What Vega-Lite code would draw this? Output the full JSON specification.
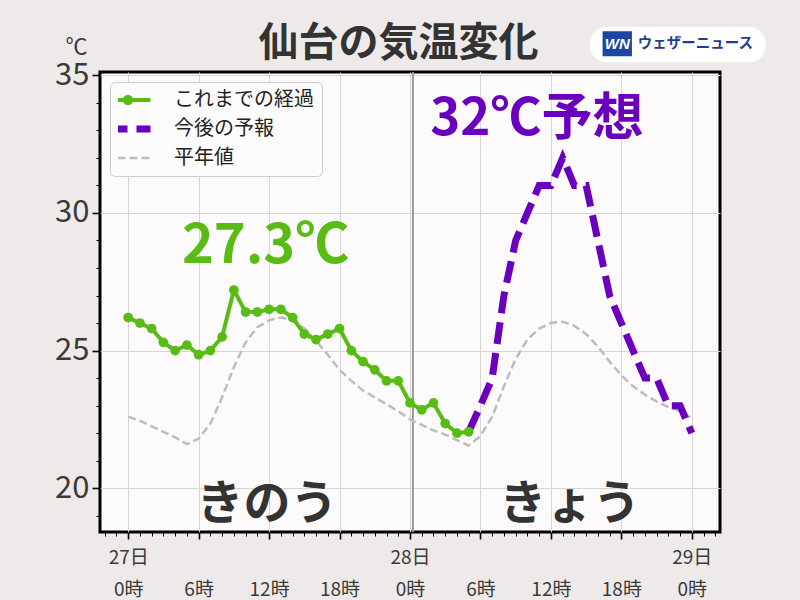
{
  "$schema": "https://vega.github.io/schema/vega-lite/v6.json",
  "width": 620,
  "height": 460,
  "autosize": {"type": "none"},
  "padding": {"left": 100, "top": 72, "right": 80, "bottom": 68},
  "background": "#EDEAE9",
  "config": {
    "view": {"fill": "#FCFAFA", "stroke": "#000000", "strokeWidth": 3},
    "font": "Noto Sans CJK JP",
    "axis": {"labelOverlap": false, "labelFlush": false}
  },
  "datasets": {
    "temps": [
      {"series": "これまでの経過", "hour": 0, "temp": 26.2},
      {"series": "これまでの経過", "hour": 1, "temp": 26.0},
      {"series": "これまでの経過", "hour": 2, "temp": 25.8},
      {"series": "これまでの経過", "hour": 3, "temp": 25.3},
      {"series": "これまでの経過", "hour": 4, "temp": 25.0},
      {"series": "これまでの経過", "hour": 5, "temp": 25.2},
      {"series": "これまでの経過", "hour": 6, "temp": 24.85},
      {"series": "これまでの経過", "hour": 7, "temp": 25.0},
      {"series": "これまでの経過", "hour": 8, "temp": 25.5},
      {"series": "これまでの経過", "hour": 9, "temp": 27.2},
      {"series": "これまでの経過", "hour": 10, "temp": 26.4},
      {"series": "これまでの経過", "hour": 11, "temp": 26.4},
      {"series": "これまでの経過", "hour": 12, "temp": 26.5},
      {"series": "これまでの経過", "hour": 13, "temp": 26.5},
      {"series": "これまでの経過", "hour": 14, "temp": 26.2},
      {"series": "これまでの経過", "hour": 15, "temp": 25.6},
      {"series": "これまでの経過", "hour": 16, "temp": 25.4},
      {"series": "これまでの経過", "hour": 17, "temp": 25.6},
      {"series": "これまでの経過", "hour": 18, "temp": 25.8},
      {"series": "これまでの経過", "hour": 19, "temp": 25.0},
      {"series": "これまでの経過", "hour": 20, "temp": 24.6},
      {"series": "これまでの経過", "hour": 21, "temp": 24.3},
      {"series": "これまでの経過", "hour": 22, "temp": 23.9},
      {"series": "これまでの経過", "hour": 23, "temp": 23.9},
      {"series": "これまでの経過", "hour": 24, "temp": 23.1},
      {"series": "これまでの経過", "hour": 25, "temp": 22.85},
      {"series": "これまでの経過", "hour": 26, "temp": 23.1},
      {"series": "これまでの経過", "hour": 27, "temp": 22.35},
      {"series": "これまでの経過", "hour": 28, "temp": 22.0},
      {"series": "これまでの経過", "hour": 29, "temp": 22.05},
      {"series": "今後の予報", "hour": 29, "temp": 22.05},
      {"series": "今後の予報", "hour": 30, "temp": 23},
      {"series": "今後の予報", "hour": 31, "temp": 24},
      {"series": "今後の予報", "hour": 32, "temp": 27},
      {"series": "今後の予報", "hour": 33, "temp": 29},
      {"series": "今後の予報", "hour": 34, "temp": 30},
      {"series": "今後の予報", "hour": 35, "temp": 31},
      {"series": "今後の予報", "hour": 36, "temp": 31},
      {"series": "今後の予報", "hour": 37, "temp": 32},
      {"series": "今後の予報", "hour": 38, "temp": 31},
      {"series": "今後の予報", "hour": 39, "temp": 31},
      {"series": "今後の予報", "hour": 40, "temp": 29},
      {"series": "今後の予報", "hour": 41, "temp": 27},
      {"series": "今後の予報", "hour": 42, "temp": 26},
      {"series": "今後の予報", "hour": 43, "temp": 25},
      {"series": "今後の予報", "hour": 44, "temp": 24},
      {"series": "今後の予報", "hour": 45, "temp": 24},
      {"series": "今後の予報", "hour": 46, "temp": 23},
      {"series": "今後の予報", "hour": 47, "temp": 23},
      {"series": "今後の予報", "hour": 48, "temp": 22},
      {"series": "平年値", "hour": 0, "temp": 22.6},
      {"series": "平年値", "hour": 1, "temp": 22.45},
      {"series": "平年値", "hour": 2, "temp": 22.25},
      {"series": "平年値", "hour": 3, "temp": 22.05},
      {"series": "平年値", "hour": 4, "temp": 21.85},
      {"series": "平年値", "hour": 5, "temp": 21.6},
      {"series": "平年値", "hour": 6, "temp": 21.8},
      {"series": "平年値", "hour": 7, "temp": 22.35},
      {"series": "平年値", "hour": 8, "temp": 23.3},
      {"series": "平年値", "hour": 9, "temp": 24.4},
      {"series": "平年値", "hour": 10, "temp": 25.3},
      {"series": "平年値", "hour": 11, "temp": 25.85},
      {"series": "平年値", "hour": 12, "temp": 26.1},
      {"series": "平年値", "hour": 13, "temp": 26.2},
      {"series": "平年値", "hour": 14, "temp": 26.1},
      {"series": "平年値", "hour": 15, "temp": 25.8},
      {"series": "平年値", "hour": 16, "temp": 25.35},
      {"series": "平年値", "hour": 17, "temp": 24.85},
      {"series": "平年値", "hour": 18, "temp": 24.3},
      {"series": "平年値", "hour": 19, "temp": 23.9},
      {"series": "平年値", "hour": 20, "temp": 23.55},
      {"series": "平年値", "hour": 21, "temp": 23.3},
      {"series": "平年値", "hour": 22, "temp": 23.05},
      {"series": "平年値", "hour": 23, "temp": 22.8},
      {"series": "平年値", "hour": 24, "temp": 22.5},
      {"series": "平年値", "hour": 25, "temp": 22.3},
      {"series": "平年値", "hour": 26, "temp": 22.1},
      {"series": "平年値", "hour": 27, "temp": 21.95},
      {"series": "平年値", "hour": 28, "temp": 21.75},
      {"series": "平年値", "hour": 29, "temp": 21.55},
      {"series": "平年値", "hour": 30, "temp": 21.9},
      {"series": "平年値", "hour": 31, "temp": 22.6},
      {"series": "平年値", "hour": 32, "temp": 23.7},
      {"series": "平年値", "hour": 33, "temp": 24.7},
      {"series": "平年値", "hour": 34, "temp": 25.4},
      {"series": "平年値", "hour": 35, "temp": 25.8},
      {"series": "平年値", "hour": 36, "temp": 26.0},
      {"series": "平年値", "hour": 37, "temp": 26.05},
      {"series": "平年値", "hour": 38, "temp": 25.9},
      {"series": "平年値", "hour": 39, "temp": 25.6},
      {"series": "平年値", "hour": 40, "temp": 25.15},
      {"series": "平年値", "hour": 41, "temp": 24.6},
      {"series": "平年値", "hour": 42, "temp": 24.1},
      {"series": "平年値", "hour": 43, "temp": 23.7},
      {"series": "平年値", "hour": 44, "temp": 23.4},
      {"series": "平年値", "hour": 45, "temp": 23.15},
      {"series": "平年値", "hour": 46, "temp": 22.95},
      {"series": "平年値", "hour": 47, "temp": 22.8},
      {"series": "平年値", "hour": 48, "temp": 22.55}
    ]
  },
  "layer": [
    {
      "data": {"values": [{"hour": 24.25}]},
      "mark": {"type": "rule", "color": "#9a9a9a", "strokeWidth": 2},
      "encoding": {
        "x": {
          "field": "hour",
          "type": "quantitative",
          "scale": {"domain": [-2.4, 50.4], "nice": false, "zero": false},
          "axis": {
            "title": null,
            "values": [-2,-1,0,1,2,3,4,5,6,7,8,9,10,11,12,13,14,15,16,17,18,19,20,21,22,23,24,25,26,27,28,29,30,31,32,33,34,35,36,37,38,39,40,41,42,43,44,45,46,47,48,49,50],
            "tickCount": 200,
            "labelExpr": "datum.value % 6 !== 0 ? '' : (datum.value === 0 ? ['27日', '0時'] : datum.value === 24 ? ['28日', '0時'] : datum.value === 48 ? ['29日', '0時'] : ['', (datum.value % 24) + '時'])",
            "labelFontSize": 19,
            "labelColor": "#3a3a3a",
            "labelLineHeight": 32,
            "labelBaseline": "top",
            "labelPadding": 9,
            "labelOverlap": false,
            "labelFlush": false,
            "domain": false,
            "tickColor": "#000000",
            "tickSize": {"condition": {"test": "datum.value % 6 === 0", "value": 7}, "value": 4},
            "tickWidth": {"condition": {"test": "datum.value % 6 === 0", "value": 1.6}, "value": 1},
            "grid": true,
            "gridColor": "#d6d6d6",
            "gridWidth": 1,
            "gridOpacity": {"condition": {"test": "datum.value % 6 === 0", "value": 1}, "value": 0}
          }
        }
      }
    },
    {
      "data": {"name": "temps"},
      "transform": [{"filter": "datum.series === '平年値'"}],
      "mark": {"type": "line", "strokeWidth": 2.5},
      "encoding": {
        "x": {"field": "hour", "type": "quantitative"},
        "y": {
          "field": "temp",
          "type": "quantitative",
          "scale": {"domain": [18.41, 35.12], "nice": false, "zero": false},
          "axis": {
            "title": "℃",
            "titleAngle": 0,
            "titleFontSize": 22,
            "titleFontWeight": "normal",
            "titleColor": "#3a3a3a",
            "titleAlign": "center",
            "titleBaseline": "middle",
            "titleX": -24,
            "titleY": -26,
            "values": [19,20,21,22,23,24,25,26,27,28,29,30,31,32,33,34,35],
            "tickCount": 200,
            "format": "d",
            "labelExpr": "datum.value % 5 === 0 ? format(datum.value, 'd') : ''",
            "labelFontSize": 31,
            "labelColor": "#3a3a3a",
            "labelPadding": 3,
            "labelOverlap": false,
            "labelFlush": false,
            "domain": false,
            "tickColor": "#000000",
            "tickSize": {"condition": {"test": "datum.value % 5 === 0", "value": 8}, "value": 4},
            "tickWidth": {"condition": {"test": "datum.value % 5 === 0", "value": 1.6}, "value": 1},
            "grid": true,
            "gridColor": "#d6d6d6",
            "gridWidth": 1,
            "gridOpacity": {"condition": {"test": "datum.value % 5 === 0", "value": 1}, "value": 0}
          }
        },
        "color": {
          "field": "series",
          "type": "nominal",
          "scale": {"domain": ["これまでの経過", "今後の予報", "平年値"], "range": ["#58BC14", "#6A00BE", "#BDBDBD"]},
          "legend": {
            "title": null,
            "orient": "top-left",
            "offset": 10,
            "padding": 8,
            "fillColor": "#FDFCFC",
            "strokeColor": "#cccccc",
            "cornerRadius": 5,
            "symbolType": "stroke",
            "symbolSize": 2025,
            "clipHeight": 20,
            "rowPadding": 9,
            "labelFontSize": 20,
            "labelColor": "#222222",
            "labelOffset": 36,
            "labelFont": "Noto Sans CJK JP",
            "encode": {
              "symbols": {
                "update": {
                  "shape": {"signal": "datum.value === 'これまでの経過' ? 'M-1,0H1M-0.14,0A0.14,0.14,0,1,0,0.14,0A0.14,0.14,0,1,0,-0.14,0Z' : 'stroke'"},
                  "fill": {"signal": "datum.value === 'これまでの経過' ? '#58BC14' : 'transparent'"},
                  "strokeWidth": {"signal": "datum.value === '今後の予報' ? 7 : datum.value === '平年値' ? 2.5 : 4"}
                }
              }
            }
          }
        },
        "strokeDash": {
          "field": "series",
          "type": "nominal",
          "scale": {"domain": ["これまでの経過", "今後の予報", "平年値"], "range": [[1, 0], [22, 9], [8, 4]]}
        }
      }
    },
    {
      "data": {"name": "temps"},
      "transform": [{"filter": "datum.series === '今後の予報'"}],
      "mark": {"type": "line", "strokeWidth": 7},
      "encoding": {
        "x": {"field": "hour", "type": "quantitative"},
        "y": {"field": "temp", "type": "quantitative"},
        "color": {"field": "series", "type": "nominal"},
        "strokeDash": {"field": "series", "type": "nominal"}
      }
    },
    {
      "data": {"name": "temps"},
      "transform": [{"filter": "datum.series === 'これまでの経過'"}],
      "mark": {"type": "line", "strokeWidth": 4},
      "encoding": {
        "x": {"field": "hour", "type": "quantitative"},
        "y": {"field": "temp", "type": "quantitative"},
        "color": {"field": "series", "type": "nominal"},
        "strokeDash": {"field": "series", "type": "nominal"}
      }
    },
    {
      "data": {"name": "temps"},
      "transform": [{"filter": "datum.series === 'これまでの経過'"}],
      "mark": {"type": "point", "filled": true, "size": 95, "opacity": 1, "color": "#58BC14"},
      "encoding": {
        "x": {"field": "hour", "type": "quantitative"},
        "y": {"field": "temp", "type": "quantitative"}
      }
    },
    {
      "data": {"values": [{"hour": 23.03, "temp": 36.12, "label": "仙台の気温変化"}]},
      "mark": {"type": "text", "fontSize": 40, "fontWeight": "bold", "color": "#333333", "align": "center", "baseline": "middle"},
      "encoding": {
        "x": {"field": "hour", "type": "quantitative"},
        "y": {"field": "temp", "type": "quantitative"},
        "text": {"field": "label"}
      }
    },
    {
      "data": {"values": [{"hour": 11.7, "temp": 28.77, "label": "27.3℃"}]},
      "mark": {"type": "text", "fontSize": 54, "fontWeight": "bold", "color": "#58BC14", "align": "center", "baseline": "middle"},
      "encoding": {
        "x": {"field": "hour", "type": "quantitative"},
        "y": {"field": "temp", "type": "quantitative"},
        "text": {"field": "label"}
      }
    },
    {
      "data": {"values": [{"hour": 34.8, "temp": 33.39, "label": "32℃予想"}]},
      "mark": {"type": "text", "fontSize": 51, "fontWeight": "bold", "color": "#6A00BE", "align": "center", "baseline": "middle"},
      "encoding": {
        "x": {"field": "hour", "type": "quantitative"},
        "y": {"field": "temp", "type": "quantitative"},
        "text": {"field": "label"}
      }
    },
    {
      "data": {"values": [{"hour": 11.83, "temp": 19.39, "label": "きのう"}, {"hour": 37.6, "temp": 19.39, "label": "きょう"}]},
      "mark": {"type": "text", "fontSize": 47, "fontWeight": "bold", "color": "#333333", "align": "center", "baseline": "middle"},
      "encoding": {
        "x": {"field": "hour", "type": "quantitative"},
        "y": {"field": "temp", "type": "quantitative"},
        "text": {"field": "label"}
      }
    },
    {
      "data": {"values": [{"hour": 39.3, "hour2": 54.3, "temp": 35.47, "temp2": 36.76}]},
      "mark": {"type": "rect", "color": "#FFFFFF", "cornerRadius": 17, "clip": false},
      "encoding": {
        "x": {"field": "hour", "type": "quantitative"},
        "x2": {"field": "hour2"},
        "y": {"field": "temp", "type": "quantitative"},
        "y2": {"field": "temp2"}
      }
    },
    {
      "data": {"values": [{"hour": 40.4, "hour2": 42.9, "temp": 35.69, "temp2": 36.6}]},
      "mark": {"type": "rect", "color": "#1E46A0", "clip": false},
      "encoding": {
        "x": {"field": "hour", "type": "quantitative"},
        "x2": {"field": "hour2"},
        "y": {"field": "temp", "type": "quantitative"},
        "y2": {"field": "temp2"}
      }
    },
    {
      "data": {"values": [{"hour": 41.65, "temp": 36.14, "label": "WN"}]},
      "mark": {"type": "text", "fontSize": 15, "fontWeight": "bold", "fontStyle": "italic", "color": "#FFFFFF", "align": "center", "baseline": "middle", "font": "Liberation Sans"},
      "encoding": {
        "x": {"field": "hour", "type": "quantitative"},
        "y": {"field": "temp", "type": "quantitative"},
        "text": {"field": "label"}
      }
    },
    {
      "data": {"values": [{"hour": 48.3, "temp": 36.12, "label": "ウェザーニュース"}]},
      "mark": {"type": "text", "fontSize": 14.5, "fontWeight": "bold", "color": "#1E3E96", "align": "center", "baseline": "middle"},
      "encoding": {
        "x": {"field": "hour", "type": "quantitative"},
        "y": {"field": "temp", "type": "quantitative"},
        "text": {"field": "label"}
      }
    }
  ]
}
